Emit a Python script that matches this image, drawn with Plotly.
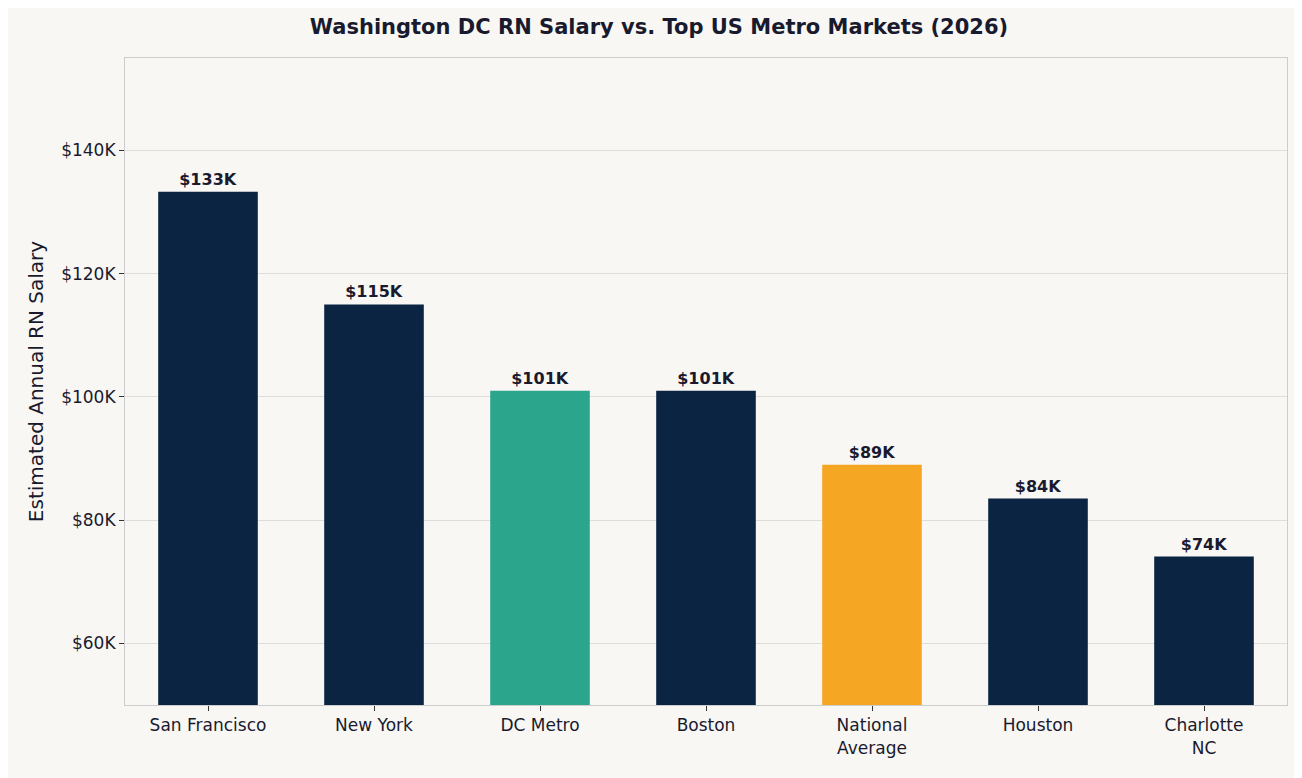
import plotly.graph_objects as go

cities = ["San Francisco", "New York", "DC Metro", "Boston", "National<br>Average", "Houston", "Charlotte<br>NC"]
salaries = [133300, 115000, 101000, 101000, 89000, 83500, 74100]
labels = ["$133K", "$115K", "$101K", "$101K", "$89K", "$84K", "$74K"]
colors = ["#0b2442", "#0b2442", "#2ca58d", "#0b2442", "#f5a623", "#0b2442", "#0b2442"]
y_ticks = [60000, 80000, 100000, 120000, 140000]
y_tick_labels = ["$60K", "$80K", "$100K", "$120K", "$140K"]

fig = go.Figure(go.Bar(
    x=cities,
    y=salaries,
    width=0.6,
    marker=dict(color=colors, line=dict(width=0)),
    text=["<b>%s</b>" % t for t in labels],
    textposition="outside",
    cliponaxis=False,
    textfont=dict(size=16, color="#1a1a2e"),
))

fig.update_layout(
    title=dict(text="<b>Washington DC RN Salary vs. Top US Metro Markets (2026)</b>",
               x=0.5, y=0.976, xanchor="center", yanchor="middle",
               font=dict(size=21, color="#1a1a2e")),
    font=dict(family="DejaVu Sans", size=17, color="#1a1a2e"),
    paper_bgcolor="#f8f7f4",
    plot_bgcolor="#f8f7f4",
    width=1302, height=778,
    margin=dict(l=117, r=23, t=50, b=81, autoexpand=False),
    showlegend=False,
    xaxis=dict(showline=True, linecolor="#cccccc", mirror=True,
               ticks="outside", ticklen=5, tickcolor="#333333",
               showgrid=False, automargin=False),
    yaxis=dict(range=[50000, 155000], tickvals=y_ticks, ticktext=y_tick_labels,
               showline=True, linecolor="#cccccc", mirror=True,
               ticks="outside", ticklen=5, tickcolor="#333333",
               gridcolor="#dddddd", zeroline=False, automargin=False,
               title=dict(text="Estimated Annual RN Salary", standoff=12)),
)

fig.write_html("out.html")
